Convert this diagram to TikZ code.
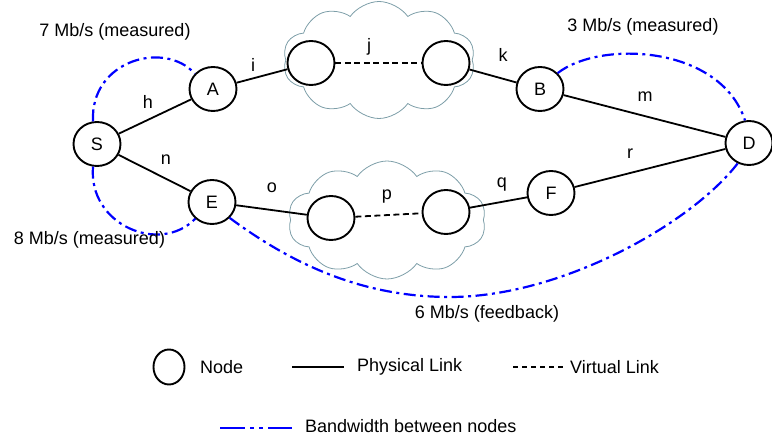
\documentclass[tikz,border=0pt]{standalone}
\usepackage{fontspec}
\setmainfont{Liberation Sans}
\usetikzlibrary{shapes.geometric,shapes.symbols}
\definecolor{cloudc}{RGB}{125,158,168}
\definecolor{bwblue}{RGB}{0,0,255}
\begin{document}
\begin{tikzpicture}[x=1pt,y=-1pt,
  every node/.style={font=\fontsize{18}{21}\selectfont},
  nd/.style={draw,ellipse,line width=1.9pt,fill=white,minimum width=47pt,minimum height=44pt,inner sep=0pt},
  lbl/.style={inner sep=0pt},
  phys/.style={line width=1.8pt},
  virt/.style={line width=1.8pt,dash pattern=on 6pt off 3.5pt},
  bw/.style={draw=bwblue,line width=2.2pt,dash pattern=on 12pt off 4.5pt on 3pt off 4.5pt},
  cloudshape/.style={draw=cloudc,line width=0.8pt,cloud,cloud puffs=10,cloud puff arc=110,aspect=1.65,inner sep=0pt}
]
\useasboundingbox (0,0) rectangle (772,438);

% clouds
\node[cloudshape,minimum width=192pt,minimum height=117pt] (c1) at (379,60) {};
\node[cloudshape,minimum width=198pt,minimum height=118pt] (c2) at (387,220) {};

% nodes
\node[nd] (S) at (97,144) {S};
\node[nd] (A) at (213,89) {A};
\node[nd] (E) at (212,202) {E};
\node[nd] (V1) at (311,63) {};
\node[nd] (V2) at (446,63) {};
\node[nd] (B) at (540,89) {B};
\node[nd] (D) at (749,143) {D};
\node[nd] (F) at (551,193) {F};
\node[nd] (V3) at (331,218) {};
\node[nd] (V4) at (446,212) {};

% links
\draw[phys] (S) -- (A);
\draw[phys] (S) -- (E);
\draw[phys] (A) -- (V1);
\draw[virt] (V1) -- (V2);
\draw[phys] (V2) -- (B);
\draw[phys] (B) -- (D);
\draw[phys] (E) -- (V3);
\draw[virt] (V3) -- (V4);
\draw[phys] (V4) -- (F);
\draw[phys] (F) -- (D);

% bandwidth arcs
\draw[bw] (S.100) .. controls (90,60) and (165,40) .. (A.140);
\draw[bw] (S.260) .. controls (88,225) and (160,255) .. (E.225);
\draw[bw] (B.42) .. controls (600,40) and (720,45) .. (D.100);
\coordinate (bot) at (450,297);
\draw[bw] (E.318) .. controls (300,270) and (370,297) .. (bot)
  .. controls (560,297) and (690,225) .. (D.241);

% link labels
\node[lbl] (lh) at (148,102) {h};
\node[lbl] (ln) at (166,160) {n};
\node[lbl] (li) at (253,65) {i};
\node[lbl] (lj) at (369,47) {j};
\node[lbl] (lk) at (503,55) {k};
\node[lbl] (lm) at (645,97) {m};
\node[lbl] (lr) at (630,154) {r};
\node[lbl] (lo) at (272,188) {o};
\node[lbl] (lp) at (387,197) {p};
\node[lbl] (lq) at (502,185) {q};

% bandwidth labels
\node[lbl] (t7) at (115,32) {7 Mb/s (measured)};
\node[lbl] (t8) at (89.5,240) {8 Mb/s (measured)};
\node[lbl] (t3) at (643,27) {3 Mb/s (measured)};
\node[lbl] (t6) at (487,314) {6 Mb/s (feedback)};

% legend
\node[draw,ellipse,line width=1.9pt,minimum width=31pt,minimum height=35pt,inner sep=0pt] (lgc) at (169,367) {};
\node[lbl,anchor=west] (lgn) at (200,367) {Node};
\coordinate (p1) at (292,367);
\coordinate (p2) at (344,367);
\draw[phys] (p1) -- (p2);
\node[lbl,anchor=west] (lgp) at (357,367) {Physical Link};
\coordinate (v1) at (513,367);
\coordinate (v2) at (563,367);
\draw[line width=1.8pt,dash pattern=on 5pt off 4pt] (v1) -- (v2);
\node[lbl,anchor=west] (lgv) at (570,367) {Virtual Link};
\coordinate (b1) at (220,428);
\coordinate (b2) at (292,428);
\draw[draw=bwblue,line width=2.2pt,dash pattern=on 25pt off 5pt on 4pt off 5pt on 4pt off 5pt on 24pt] (b1) -- (b2);
\node[lbl,anchor=west] (lgb) at (305,426) {Bandwidth between nodes};
\end{tikzpicture}
\end{document}
